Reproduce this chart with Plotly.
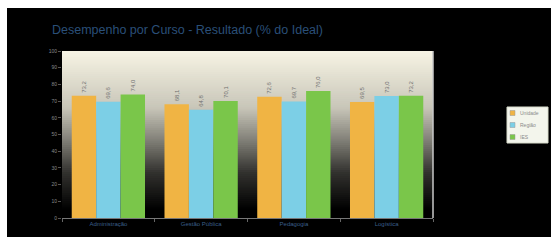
import plotly.graph_objects as go

categories = ["Administração", "Gestão Pública", "Pedagogia", "Logística"]
series_names = ["Unidade", "Região", "IES"]
values_unidade = [73.2, 68.1, 72.6, 69.5]
values_regiao = [69.6, 64.8, 69.7, 73.0]
values_ies = [74.0, 70.1, 76.0, 73.2]
y_ticks = [0, 10, 20, 30, 40, 50, 60, 70, 80, 90, 100]

colors = ["#f0b444", "#7ccfe6", "#7ac64a"]

W, H = 557, 241
L, R, T, B = 62, 124, 51, 23
pw, ph = W - L - R, H - T - B

def px_x(p):
    return (p - L) / pw

def px_y(p):
    return (H - B - p) / ph

fig = go.Figure()
for name, vals, col in zip(series_names, [values_unidade, values_regiao, values_ies], colors):
    fig.add_trace(go.Bar(
        x=categories, y=vals, name=name,
        marker=dict(color=col, line=dict(width=0)),
        text=[f"{v:.1f}".replace(".", ",") for v in vals],
        textposition="outside", textangle=-90,
        textfont=dict(size=6, color="#6f6f6f", family="Arial"),
        cliponaxis=False,
        showlegend=False,
    ))

shapes = []
annotations = []
# black frame background
shapes.append(dict(type="rect", xref="paper", yref="paper",
                   x0=px_x(7), x1=px_x(551), y0=px_y(237), y1=px_y(8),
                   fillcolor="#000000", line=dict(width=0), layer="below"))
# gradient plot background (piecewise brightness profile)
anchors = [(0.0, 0.0), (0.05, 0.0), (0.27, 0.20), (0.47, 0.53), (0.66, 0.81), (1.0, 1.0)]

def bright(f):
    for (a, va), (b, vb) in zip(anchors[:-1], anchors[1:]):
        if a <= f <= b:
            return va + (vb - va) * (f - a) / (b - a)
    return 1.0

n = 80
for i in range(n):
    f0 = i / n
    f1 = (i + 1) / n
    t = bright((f0 + f1) / 2)
    r = int(round(247 * t))
    g = int(round(244 * t))
    b = int(round(228 * t))
    shapes.append(dict(type="rect", xref="paper", yref="paper",
                       x0=0, x1=1, y0=f0, y1=min(1.0, f1 + 0.012),
                       fillcolor=f"rgb({r},{g},{b})", line=dict(width=0), layer="below"))
# light right edge of plot
shapes.append(dict(type="line", xref="paper", yref="paper", x0=1, x1=1, y0=0, y1=1,
                   line=dict(color="#c8c8c8", width=1.5), layer="below"))

# legend box
lx0, lx1, ly0, ly1 = 507, 548, 107, 143
shapes.append(dict(type="rect", xref="paper", yref="paper",
                   x0=px_x(lx0), x1=px_x(lx1), y0=px_y(ly1), y1=px_y(ly0),
                   fillcolor="#f3f5ec", line=dict(color="#d8dccc", width=1)))
for i, (name, col) in enumerate(zip(series_names, colors)):
    cy = 113 + i * 12
    shapes.append(dict(type="rect", xref="paper", yref="paper",
                       x0=px_x(510), x1=px_x(515), y0=px_y(cy + 2.5), y1=px_y(cy - 2.5),
                       fillcolor=col, line=dict(color="#999999", width=0.5)))
    annotations.append(dict(xref="paper", yref="paper", x=px_x(518), y=px_y(cy),
                            xanchor="left", yanchor="middle", text=name, showarrow=False,
                            font=dict(size=5, color="#8a8a8a", family="Arial")))

fig.update_layout(
    width=W, height=H,
    margin=dict(l=L, r=R, t=T, b=B, autoexpand=False),
    paper_bgcolor="#ffffff",
    plot_bgcolor="rgba(0,0,0,0)",
    barmode="group", bargap=0.21, bargroupgap=0.0,
    separators=",.",
    shapes=shapes,
    annotations=annotations,
    showlegend=False,
    title=dict(text="Desempenho por Curso - Resultado (% do Ideal)",
               x=52 / W, xanchor="left", xref="container",
               y=1 - 30 / H, yanchor="middle", yref="container",
               font=dict(size=12.5, color="#2a4f78", family="Arial")),
    xaxis=dict(showgrid=False, showline=True, linecolor="#777777", linewidth=1,
               ticks="outside", tickson="boundaries", ticklen=3, tickcolor="#666666",
               tickfont=dict(size=6, color="#3a5f8a", family="Arial")),
    yaxis=dict(range=[0, 100], tickvals=y_ticks, showgrid=False, zeroline=False,
               showline=False, ticks="outside", ticklen=3, tickcolor="#555555",
               tickfont=dict(size=5, color="#888888", family="Arial")),
)

fig.write_html("out.html", config={"displayModeBar": False},
               post_script="document.body.style.margin='0px';document.body.style.overflow='hidden';")
